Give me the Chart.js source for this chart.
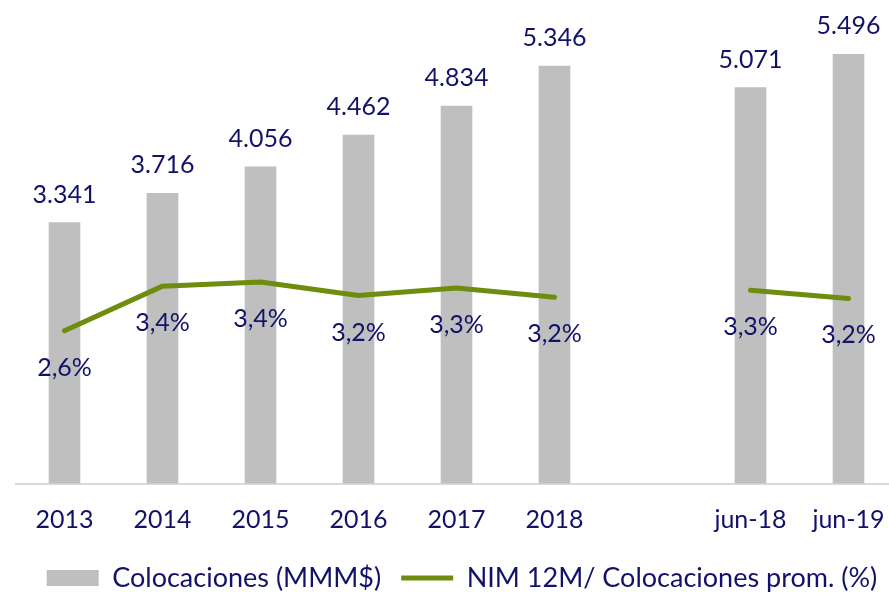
<!DOCTYPE html>
<html>
<head>
<meta charset="utf-8">
<script src="https://cdn.jsdelivr.net/npm/chart.js@4.4.1/dist/chart.umd.min.js"></script>
<style>
  html, body { margin: 0; padding: 0; background: #fff; overflow: hidden; }
  #wrap { width: 911px; height: 604px; }
</style>
</head>
<body>
<div id="wrap"><canvas id="chart" width="911" height="604"></canvas></div>
<script>
const periods = ["2013", "2014", "2015", "2016", "2017", "2018", "", "jun-18", "jun-19"];
const colocaciones = [3341, 3716, 4056, 4462, 4834, 5346, null, 5071, 5496];
const nim = [2.61, 3.37, 3.44, 3.21, 3.34, 3.18, null, 3.30, 3.16];

const navy = "#12126b";
const font = "Lato, 'Open Sans', sans-serif";

// value labels (Excel style: 5.346 / 3,2%)
const labelPlugin = {
  id: "valueLabels",
  afterDatasetsDraw(chart) {
    const ctx = chart.ctx;
    ctx.save();
    ctx.fillStyle = navy;
    ctx.font = "25px " + font;
    ctx.textAlign = "center";
    ctx.textBaseline = "alphabetic";

    chart.getDatasetMeta(0).data.forEach((bar, i) => {
      const v = colocaciones[i];
      if (v == null) return;
      ctx.fillText(v.toLocaleString("de-DE"), bar.x, bar.y - 20);
    });

    chart.getDatasetMeta(1).data.forEach((pt, i) => {
      const v = nim[i];
      if (v == null) return;
      ctx.fillText(v.toFixed(1).replace(".", ",") + "%", pt.x, pt.y + 45);
    });
    ctx.restore();
  }
};

new Chart(document.getElementById("chart"), {
  type: "bar",
  data: {
    labels: periods,
    datasets: [
      {
        label: "Colocaciones (MMM$)",
        data: colocaciones,
        backgroundColor: "#bfbfbf",
        barThickness: 31,
        yAxisID: "y",
        order: 2,
        pointStyle: "rect"
      },
      {
        type: "line",
        label: "NIM 12M/ Colocaciones prom. (%)",
        data: nim,
        borderColor: "#6e8c0e",
        backgroundColor: "#6e8c0e",
        borderWidth: 5,
        borderCapStyle: "round",
        borderJoinStyle: "round",
        pointRadius: 0,
        pointStyle: "line",
        spanGaps: false,
        yAxisID: "y2",
        order: 1
      }
    ]
  },
  options: {
    responsive: false,
    animation: false,
    layout: { padding: { left: 15.5, right: 2.5, top: 15, bottom: 2.5 } },
    plugins: {
      tooltip: { enabled: false },
      legend: {
        position: "bottom",
        labels: {
          usePointStyle: true,
          pointStyleWidth: 52,
          boxHeight: 16,
          padding: 20,
          color: navy,
          font: { family: font, size: 27 },
          sort: (a, b) => a.datasetIndex - b.datasetIndex
        }
      }
    },
    scales: {
      x: {
        grid: { display: false },
        border: { display: true, color: "#d9d9d9", width: 2 },
        ticks: {
          color: navy,
          font: { family: font, size: 25 },
          padding: 13,
          maxRotation: 0,
          autoSkip: false
        },
        afterFit: s => { s.height -= 3; }
      },
      y: { display: false, min: 0, max: 6000 },
      y2: {
        display: true,
        position: "right",
        min: 0,
        max: 8,
        grid: { display: false },
        border: { display: false },
        ticks: { display: false },
        afterFit: s => { s.width = 11; }
      }
    }
  },
  plugins: [labelPlugin]
});
</script>
</body>
</html>
